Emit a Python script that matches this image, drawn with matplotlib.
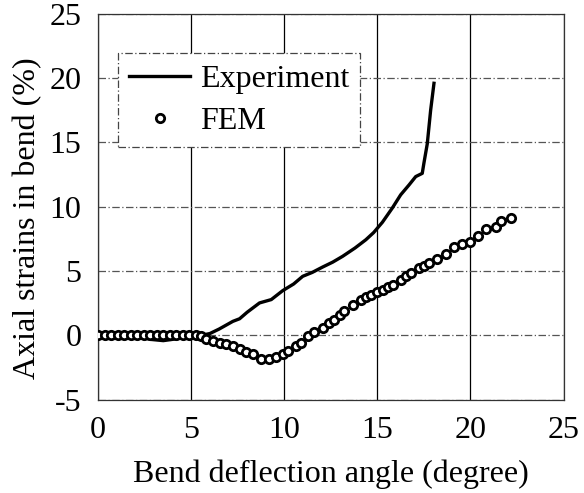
import matplotlib
matplotlib.use('Agg')
import matplotlib.pyplot as plt
import numpy as np

plt.rcParams['font.family'] = ['Liberation Serif', 'DejaVu Serif']
plt.rcParams['axes.unicode_minus'] = False

# 试验曲线
exp_x = [0, 1, 2, 2.8, 3.5, 4.5, 5.0, 5.5, 6.0, 6.5, 7.24, 7.6, 8.0, 8.32, 8.67,
         9.3, 9.92, 10.5, 10.99, 11.5, 12.06, 12.6, 13.13, 13.8, 14.38, 14.8,
         15.27, 15.8, 16.25, 16.7, 17.06, 17.41, 17.5, 17.68, 17.86, 18.04]
exp_y = [0, 0, 0, -0.3, -0.4, -0.2, 0, 0, 0.15, 0.5, 1.1, 1.3, 1.8, 2.15, 2.53,
         2.79, 3.49, 4.0, 4.6, 4.9, 5.32, 5.7, 6.15, 6.8, 7.44, 8.0,
         8.8, 9.9, 10.93, 11.7, 12.35, 12.6, 13.4, 14.9, 17.5, 19.6]

# 有限元结果
fem_x = [0, 0.35, 0.7, 1.05, 1.4, 1.75, 2.1, 2.45, 2.8, 3.15, 3.5, 3.85, 4.2,
         4.55, 4.9, 5.25, 5.55, 5.82, 6.17, 6.53, 6.89, 7.25, 7.6, 7.96, 8.32,
         8.76, 9.2, 9.56, 9.92, 10.18, 10.63, 10.9, 11.25, 11.61, 12.06, 12.42,
         12.69, 13.0, 13.23, 13.67, 14.12, 14.4, 14.65, 15.0, 15.28, 15.55,
         15.82, 16.26, 16.55, 16.8, 17.25, 17.5, 17.77, 18.22, 18.66, 19.1,
         19.56, 20.0, 20.4, 20.86, 21.37, 21.66, 22.2]
fem_y = [0, 0, 0, 0, 0, 0, 0, 0, 0, 0, 0, 0, 0,
         0, 0, 0, -0.05, -0.3, -0.44, -0.6, -0.7, -0.83, -1.03, -1.27, -1.47,
         -1.8, -1.82, -1.65, -1.47, -1.2, -0.83, -0.55, -0.05, 0.26, 0.59, 0.98,
         1.24, 1.6, 1.89, 2.4, 2.79, 3.0, 3.18, 3.4, 3.57, 3.8,
         3.95, 4.34, 4.6, 4.86, 5.24, 5.4, 5.63, 5.95, 6.35, 6.85,
         7.1, 7.3, 7.75, 8.27, 8.47, 8.86, 9.12]

fig = plt.figure(figsize=(5.84, 4.93), dpi=100)
ax = fig.add_axes([0.168, 0.189, 0.797, 0.783])

ax.plot(exp_x, exp_y, color='black', linewidth=2.4, label='Experiment', zorder=3)
ax.plot(fem_x, fem_y, linestyle='none', marker='o', markersize=6,
        markerfacecolor='white', markeredgecolor='black', markeredgewidth=2,
        label='FEM', zorder=4)

ax.set_xlim(0, 25)
ax.set_ylim(-5, 25)
ax.set_xticks([0, 5, 10, 15, 20, 25])
ax.set_yticks([-5, 0, 5, 10, 15, 20, 25])

# 网格：竖线实线，横线虚线
ax.xaxis.grid(True, color='black', linewidth=0.9, linestyle='-')
ax.yaxis.grid(True, color='#555555', linewidth=0.9, linestyle=(0, (6, 2, 1, 2)))
ax.set_axisbelow(True)
for s in ax.spines.values():
    s.set_linewidth(0.9)
    s.set_color('#333333')

ax.tick_params(length=0, labelsize=23, pad=12)
ax.tick_params(axis='y', pad=12)
ax.set_xlabel('Bend deflection angle (degree)', fontsize=23, labelpad=10)
ax.set_ylabel('Axial strains in bend (%)', fontsize=23, labelpad=6)
ax.yaxis.set_label_coords(-0.12, 0.47)

leg = ax.legend(loc='upper left', bbox_to_anchor=(0.043, 0.898), fontsize=23,
                handlelength=1.9, handletextpad=0.3, borderaxespad=0,
                fancybox=False, framealpha=1, edgecolor='#444444',
                borderpad=0.35, labelspacing=0.4)
leg.get_frame().set_linewidth(0.9)
leg.get_frame().set_linestyle((0, (6, 2, 1, 2)))

fig.savefig('out.png', dpi=100)
